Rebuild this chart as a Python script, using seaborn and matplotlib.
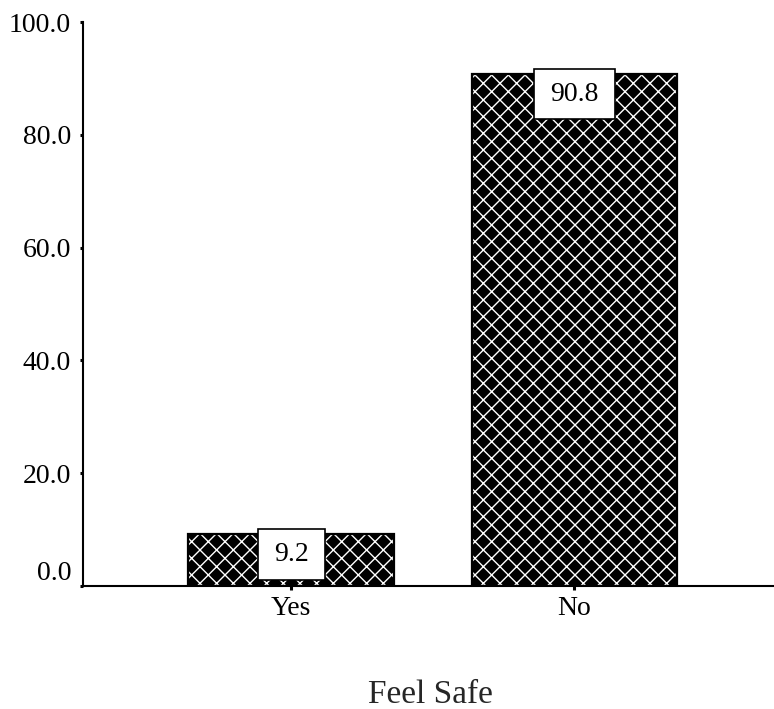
import matplotlib
matplotlib.use("Agg")
import matplotlib.pyplot as plt
import seaborn as sns

# ---- data ----
categories = ["Yes", "No"]
values = [9.2, 90.8]
yticks = [0, 20, 40, 60, 80, 100]
ytick_labels = ["0.0", "20.0", "40.0", "60.0", "80.0", "100.0"]
x_label = "Feel Safe"

sns.set_style("white")
plt.rcParams['font.family'] = ['Liberation Serif', 'DejaVu Serif']
plt.rcParams['hatch.linewidth'] = 1.0

W, H = 774, 709
fig = plt.figure(figsize=(W / 100, H / 100), dpi=100)
ax = fig.add_axes([83 / W, 1 - 586 / H, 1 - 83 / W, (586 - 22) / H])

bar_w = 0.725
# black bars with white cross-hatch
sns.barplot(x=categories, y=values, order=categories, color="black",
            edgecolor="white", hatch="xx", linewidth=0, width=bar_w,
            saturation=1, errorbar=None, ax=ax)
# black outline on top
sns.barplot(x=categories, y=values, order=categories, color="black",
            fill=False, linewidth=1.6, width=bar_w, errorbar=None, ax=ax)

ax.set_xlim(-0.734, 1.704)
ax.set_ylim(0, 100)
ax.set_yticks(yticks)
ax.set_yticklabels(ytick_labels)

for s in ["top", "right"]:
    ax.spines[s].set_visible(False)
for s in ["left", "bottom"]:
    ax.spines[s].set_linewidth(1.5)
    ax.spines[s].set_color("black")

ax.tick_params(axis="y", direction="out", length=2.5, width=2.2,
               labelsize=20, pad=6, left=True, colors="black")
ax.tick_params(axis="x", direction="out", length=3, width=2.2,
               labelsize=20, pad=4, bottom=True, colors="black")
# the 0.0 label sits above its tick in the reference
ax.get_yticklabels()[0].set_verticalalignment("bottom")

# value labels in white boxes
for i, v in enumerate(values):
    ax.annotate(f"{v:.1f}", xy=(i, v), xytext=(0, -14.5),
                textcoords="offset points", ha="center", va="center",
                fontsize=20, color="black",
                bbox=dict(boxstyle="square,pad=0.58", fc="white",
                          ec="black", lw=1.2, mutation_aspect=0.8))

ax.set_xlabel(x_label, fontsize=24)
ax.xaxis.set_label_coords((430 - 83) / (W - 83), -(703 - 586) / (586 - 22))
ax.xaxis.label.set_verticalalignment("baseline")
ax.set_ylabel("")

fig.savefig("out.png", dpi=100)
